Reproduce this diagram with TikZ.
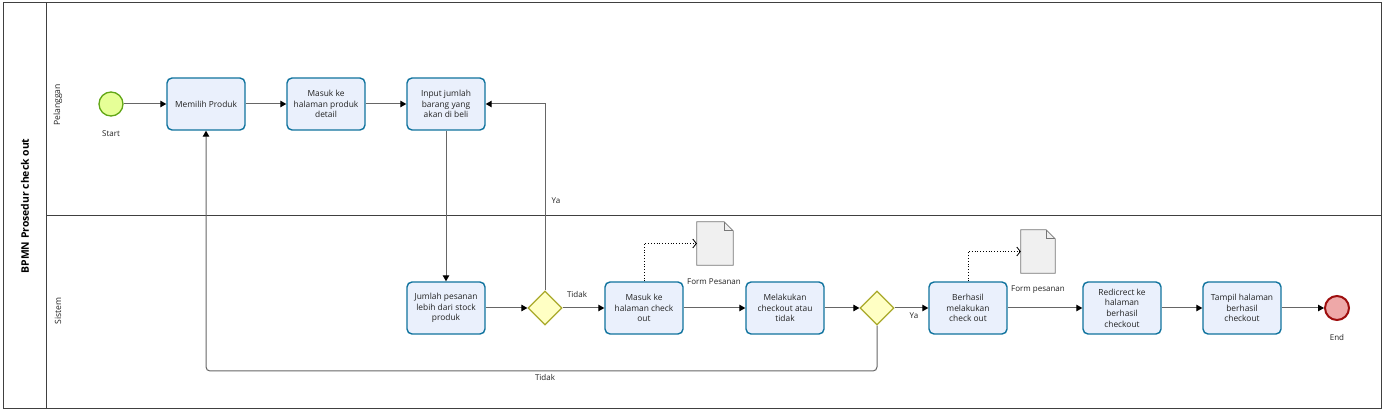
\documentclass[tikz,border=0pt]{standalone}
\usepackage{fontspec}
\setmainfont{Open Sans}
\usetikzlibrary{arrows.meta,shapes.geometric,calc}
\definecolor{taskfill}{HTML}{EAF0FC}
\definecolor{taskline}{HTML}{10739E}
\definecolor{gwfill}{HTML}{FFFFC4}
\definecolor{gwline}{HTML}{A9A92A}
\definecolor{stfill}{HTML}{E6FF97}
\definecolor{stline}{HTML}{62A716}
\definecolor{endfill}{HTML}{EEA8A8}
\definecolor{endline}{HTML}{9E0E0E}
\definecolor{flowc}{HTML}{666666}
\definecolor{docfill}{HTML}{F0F0F0}
\definecolor{docline}{HTML}{777777}
\definecolor{txt}{HTML}{222222}
\begin{document}
\begin{tikzpicture}[x=1pt,y=-1pt,
  task/.style={draw=taskline, fill=taskfill, line width=1.4pt, rounded corners=5pt,
    minimum width=78pt, minimum height=52pt, align=center,
    font=\fontsize{8.4}{10.6}\selectfont, text=txt, inner sep=0pt},
  gw/.style={diamond, draw=gwline, fill=gwfill, line width=1.2pt, minimum size=34pt, inner sep=0pt},
  flow/.style={draw=flowc, line width=1pt, -{Triangle[length=6pt,width=6.5pt,color=black]}},
  assoc/.style={draw=black, line width=0.8pt, dotted, -{Straight Barb[length=3.5pt,width=9pt,line width=0.8pt]}},
  lbl/.style={font=\fontsize{8}{9}\selectfont, text=txt, inner sep=0pt},
  doc/.style={minimum width=36pt, minimum height=43pt, inner sep=0pt},
  lane/.style={draw=black!75, line width=1pt}
]
\useasboundingbox (0,0) rectangle (1384,411);
\fill[white] (0,0) rectangle (1384,411);
% pool and lanes
\draw[lane] (3,3) rectangle (1381,408);
\draw[lane] (46,3) -- (46,408);
\draw[lane] (46,216) -- (1381,216);
\node[rotate=90, font=\bfseries\fontsize{10.4}{12}\selectfont, inner sep=0pt] (pool) at (25,206) {BPMN Prosedur check out};
\node[rotate=90, font=\fontsize{8.6}{10}\selectfont, text=txt, inner sep=0pt] (l1) at (58,105) {Pelanggan};
\node[rotate=90, font=\fontsize{8.6}{10}\selectfont, text=txt, inner sep=0pt] (l2) at (58,311) {Sistem};

% events
\node[circle, draw=stline, fill=stfill, line width=1.3pt, minimum size=24pt, inner sep=0pt] (start) at (111,104) {};
\node[lbl] (startl) at (111,134) {Start};
\node[circle, draw=endline, fill=endfill, line width=2pt, minimum size=24pt, inner sep=0pt] (end) at (1337,308) {};
\node[lbl] (endl) at (1337,338) {End};

% tasks
\node[task] (pilih) at (206,104) {Memilih Produk};
\node[task] (detail) at (326,104) {Masuk ke\\halaman produk\\detail};
\node[task] (input) at (446,104) {Input jumlah\\barang yang\\akan di beli};
\node[task] (jumlah) at (446,308) {Jumlah pesanan\\lebih dari stock\\produk};
\node[gw] (g1) at (545,308) {};
\node[task] (co) at (644,308) {Masuk ke\\halaman check\\out};
\node[task] (lakukan) at (785,308) {Melakukan\\checkout atau\\tidak};
\node[gw] (g2) at (877,308) {};
\node[task] (berhasil) at (968,308) {Berhasil\\melakukan\\check out};
\node[task] (redir) at (1122,308) {Redicrect ke\\halaman\\berhasil\\checkout};
\node[task] (tampil) at (1242,308) {Tampil halaman\\berhasil\\checkout};

% data objects
\node[doc] (d1) at (715,243.5) {};
\draw[draw=docline, fill=docfill, line width=0.8pt]
  (d1.north west) -- ($(d1.north east)+(-9,0)$) -- ($(d1.north east)+(0,9)$) -- (d1.south east) -- (d1.south west) -- cycle;
\draw[draw=docline, line width=0.8pt] ($(d1.north east)+(-9,0)$) -- ($(d1.north east)+(-9,9)$) -- ($(d1.north east)+(0,9)$);
\node[lbl] (d1l) at (714,282) {Form Pesanan};
\node[doc, minimum width=34pt] (d2) at (1038,251.5) {};
\draw[draw=docline, fill=docfill, line width=0.8pt]
  (d2.north west) -- ($(d2.north east)+(-9,0)$) -- ($(d2.north east)+(0,9)$) -- (d2.south east) -- (d2.south west) -- cycle;
\draw[draw=docline, line width=0.8pt] ($(d2.north east)+(-9,0)$) -- ($(d2.north east)+(-9,9)$) -- ($(d2.north east)+(0,9)$);
\node[lbl] (d2l) at (1038,290) {Form pesanan};

% flows
\draw[flow] (start) -- (pilih);
\draw[flow] (pilih) -- (detail);
\draw[flow] (detail) -- (input);
\draw[flow] (input) -- (jumlah);
\draw[flow] (jumlah) -- (g1);
\draw[flow] (g1) -- (co);
\draw[flow] (g1.north) |- (input.east);
\draw[flow] (co) -- (lakukan);
\draw[flow] (lakukan) -- (g2);
\draw[flow] (g2) -- (berhasil);
\draw[flow, rounded corners=4pt] (g2.south) |- (pilih.south |- 0,371) -- (pilih.south);
\draw[flow] (berhasil) -- (redir);
\draw[flow] (redir) -- (tampil);
\draw[flow] (tampil) -- (end);
\draw[assoc] (co.north) |- (d1.west);
\draw[assoc] (berhasil.north) |- (d2.west);

% flow labels
\node[lbl] (t1) at (577,295) {Tidak};
\node[lbl] (y1) at (556,201) {Ya};
\node[lbl] (y2) at (914,316) {Ya};
\node[lbl] (t2) at (545,378) {Tidak};
\end{tikzpicture}
\end{document}
